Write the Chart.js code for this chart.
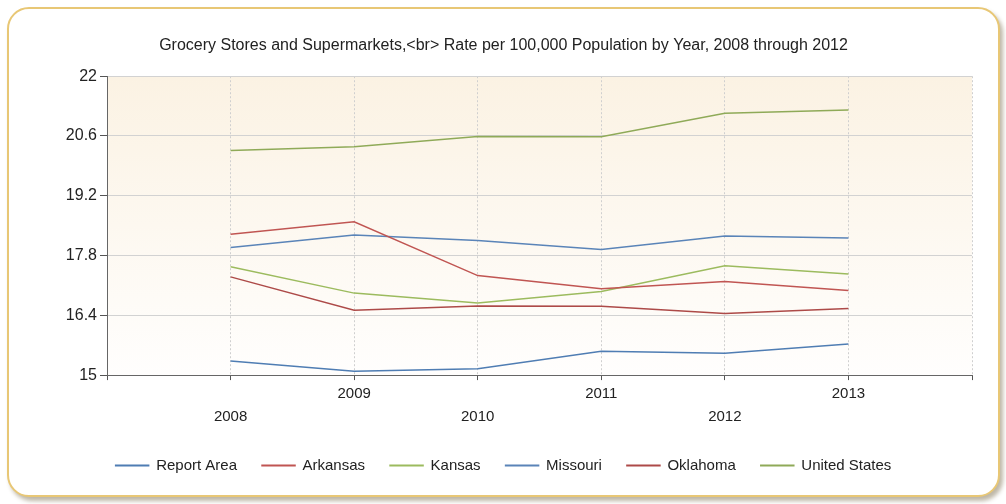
<!DOCTYPE html>
<html>
<head>
<meta charset="utf-8">
<script src="https://cdn.jsdelivr.net/npm/chart.js@4"></script>
<style>
  html, body { margin: 0; padding: 0; background: #ffffff; }
  #frame {
    position: absolute; left: 7px; top: 7px; width: 989px; height: 486px;
    border: 2px solid #e8c775; border-radius: 22px; background: #ffffff;
    box-shadow: 3px 4px 4px rgba(110, 95, 60, 0.45);
  }
  #myChart { display: block; }
</style>
</head>
<body>
<div id="frame"><canvas id="myChart" width="989" height="486"></canvas></div>
<script>
// данные графика
let years = [2008, 2009, 2010, 2011, 2012, 2013];
let reportArea   = [15.33, 15.09, 15.15, 15.56, 15.51, 15.73];
let arkansas     = [18.30, 18.59, 17.33, 17.02, 17.19, 16.98];
let kansas       = [17.54, 16.92, 16.69, 16.96, 17.56, 17.37];
let missouri     = [17.99, 18.28, 18.15, 17.94, 18.26, 18.21];
let oklahoma     = [17.30, 16.52, 16.62, 16.61, 16.44, 16.56];
let unitedStates = [20.26, 20.35, 20.59, 20.58, 21.13, 21.21];
let yTicks = [15, 16.4, 17.8, 19.2, 20.6, 22];

function points(arr){
    let res = [];
    for(let i=0; i<years.length; i++){
        res.push({x: years[i], y: arr[i]});
    }
    return res;
}

function line(label, arr, color){
    return {
        label: label,
        data: points(arr),
        borderColor: color,
        backgroundColor: color,
        borderWidth: 1.5,
        pointRadius: 0,
        fill: false,
        tension: 0
    };
}

// фон области графика
let plotBg = {
    id: 'plotBg',
    beforeDraw(chart){
        let a = chart.chartArea;
        let c = chart.ctx;
        let g = c.createLinearGradient(0, a.top, 0, a.bottom);
        g.addColorStop(0, '#fbf2e3');
        g.addColorStop(1, '#fffefd');
        c.save();
        c.fillStyle = g;
        c.fillRect(a.left, a.top, a.right - a.left, a.bottom - a.top);
        c.restore();
    }
};

let font = 'Liberation Sans, Arial, sans-serif';
let ctx = document.getElementById('myChart').getContext('2d');
let chart = new Chart(ctx, {
    type: 'line',
    data: {
        datasets: [
            line('Report Area', reportArea, '#4f7db3'),
            line('Arkansas', arkansas, '#c05552'),
            line('Kansas', kansas, '#9cbb5e'),
            line('Missouri', missouri, '#5a84b8'),
            line('Oklahoma', oklahoma, '#ad4a48'),
            line('United States', unitedStates, '#8faa58')
        ]
    },
    options: {
        responsive: false,
        animation: false,
        layout: { padding: { left: 26, right: 26, top: 0, bottom: 12 } },
        plugins: {
            title: {
                display: true,
                text: 'Grocery Stores and Supermarkets,<br> Rate per 100,000 Population by Year, 2008 through 2012',
                color: '#222222',
                font: { family: font, size: 16, weight: 'normal' },
                padding: { top: 27, bottom: 21 }
            },
            legend: {
                position: 'bottom',
                labels: {
                    color: '#222222',
                    font: { family: font, size: 15 },
                    boxWidth: 33,
                    boxHeight: 0.5,
                    padding: 25
                }
            },
            tooltip: { enabled: false }
        },
        scales: {
            x: {
                type: 'linear',
                min: 2007,
                max: 2014,
                afterFit: function(scale){ scale.height += 3; },
                ticks: {
                    stepSize: 1,
                    color: '#222222',
                    font: { family: font, size: 15, lineHeight: 1.53 },
                    padding: 2,
                    maxRotation: 0,
                    autoSkip: false,
                    callback: function(v){
                        if(v < 2008 || v > 2013) return '';
                        if(v % 2 == 0) return ['', String(v)];
                        return [String(v)];
                    }
                },
                grid: {
                    color: '#cfcfcf',
                    tickColor: '#555555',
                    tickLength: 5
                },
                border: { color: '#666666', width: 1, dash: [2, 2] }
            },
            y: {
                min: 15,
                max: 22,
                afterBuildTicks: function(scale){
                    scale.ticks = yTicks.map(function(v){ return {value: v}; });
                },
                afterFit: function(scale){ scale.width = 72; },
                ticks: {
                    color: '#222222',
                    font: { family: font, size: 16 },
                    padding: 3,
                    callback: function(v){ return String(Math.round(v*10)/10); }
                },
                grid: {
                    color: '#d2d2d2',
                    tickColor: '#555555',
                    tickLength: 7
                },
                border: { color: '#666666', width: 1 }
            }
        }
    },
    plugins: [plotBg]
});
</script>
</body>
</html>
